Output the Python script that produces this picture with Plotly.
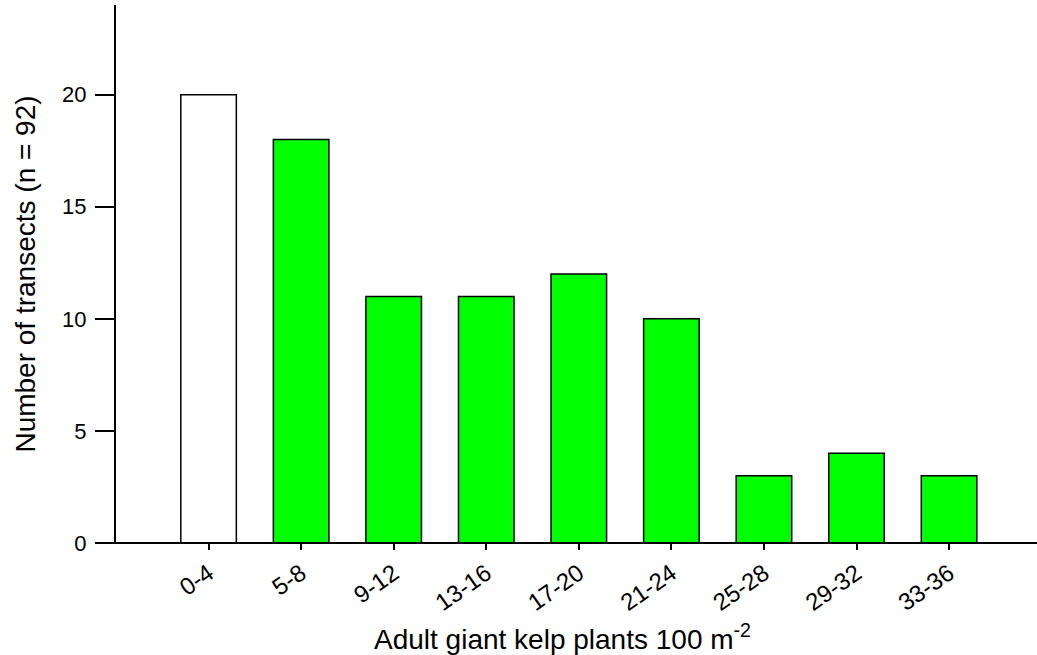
import plotly.graph_objects as go

# Density classes (adult giant kelp plants per 100 m^2) and transect counts
density_classes = ["0-4", "5-8", "9-12", "13-16", "17-20", "21-24", "25-28", "29-32", "33-36"]
transect_counts = [20, 18, 11, 11, 12, 10, 3, 4, 3]
bar_colors = ["#FFFFFF"] + ["#00FF00"] * 8

y_ticks = [0, 5, 10, 15, 20]

FONT = "Liberation Sans, Arial, sans-serif"

fig = go.Figure(
    go.Bar(
        x=list(range(len(density_classes))),
        y=transect_counts,
        width=0.6,
        marker=dict(color=bar_colors, line=dict(color="black", width=1.5)),
        hoverinfo="x+y",
    )
)

fig.update_layout(
    width=1037,
    height=655,
    margin=dict(l=116, r=0, t=5, b=112),
    paper_bgcolor="white",
    plot_bgcolor="white",
    showlegend=False,
    font=dict(family=FONT, color="black", size=22),
    xaxis=dict(
        range=[-1.0, 8.95],
        tickmode="array",
        tickvals=list(range(len(density_classes))),
        ticktext=density_classes,
        tickangle=-35,
        ticks="outside",
        ticklen=6,
        tickwidth=1.5,
        tickcolor="black",
        showline=False,
        showgrid=False,
        zeroline=False,
        tickfont=dict(family=FONT, size=24),
    ),
    yaxis=dict(
        range=[0, 24],
        tickmode="array",
        tickvals=y_ticks,
        ticks="outside",
        ticklen=19,
        tickwidth=1.5,
        tickcolor="black",
        ticklabelstandoff=4,
        showline=True,
        linecolor="black",
        linewidth=2,
        showgrid=False,
        zeroline=False,
        tickfont=dict(family=FONT, size=22),
        title=dict(text="Number of transects (n = 92)",
                   font=dict(family=FONT, size=28), standoff=18),
    ),
    shapes=[
        # baseline running under the bars, extending past the y axis
        dict(type="line", xref="paper", yref="paper",
             x0=-19 / 921, x1=1, y0=0, y1=0,
             line=dict(color="black", width=2)),
    ],
    annotations=[
        # x-axis title, placed slightly left of the plot centre
        dict(text="Adult giant kelp plants 100 m<sup>-2</sup>",
             xref="paper", yref="paper", x=0.485, y=-0.175,
             xanchor="center", yanchor="middle", showarrow=False,
             font=dict(family=FONT, size=28, color="black")),
    ],
)

fig.write_html("out.html")
